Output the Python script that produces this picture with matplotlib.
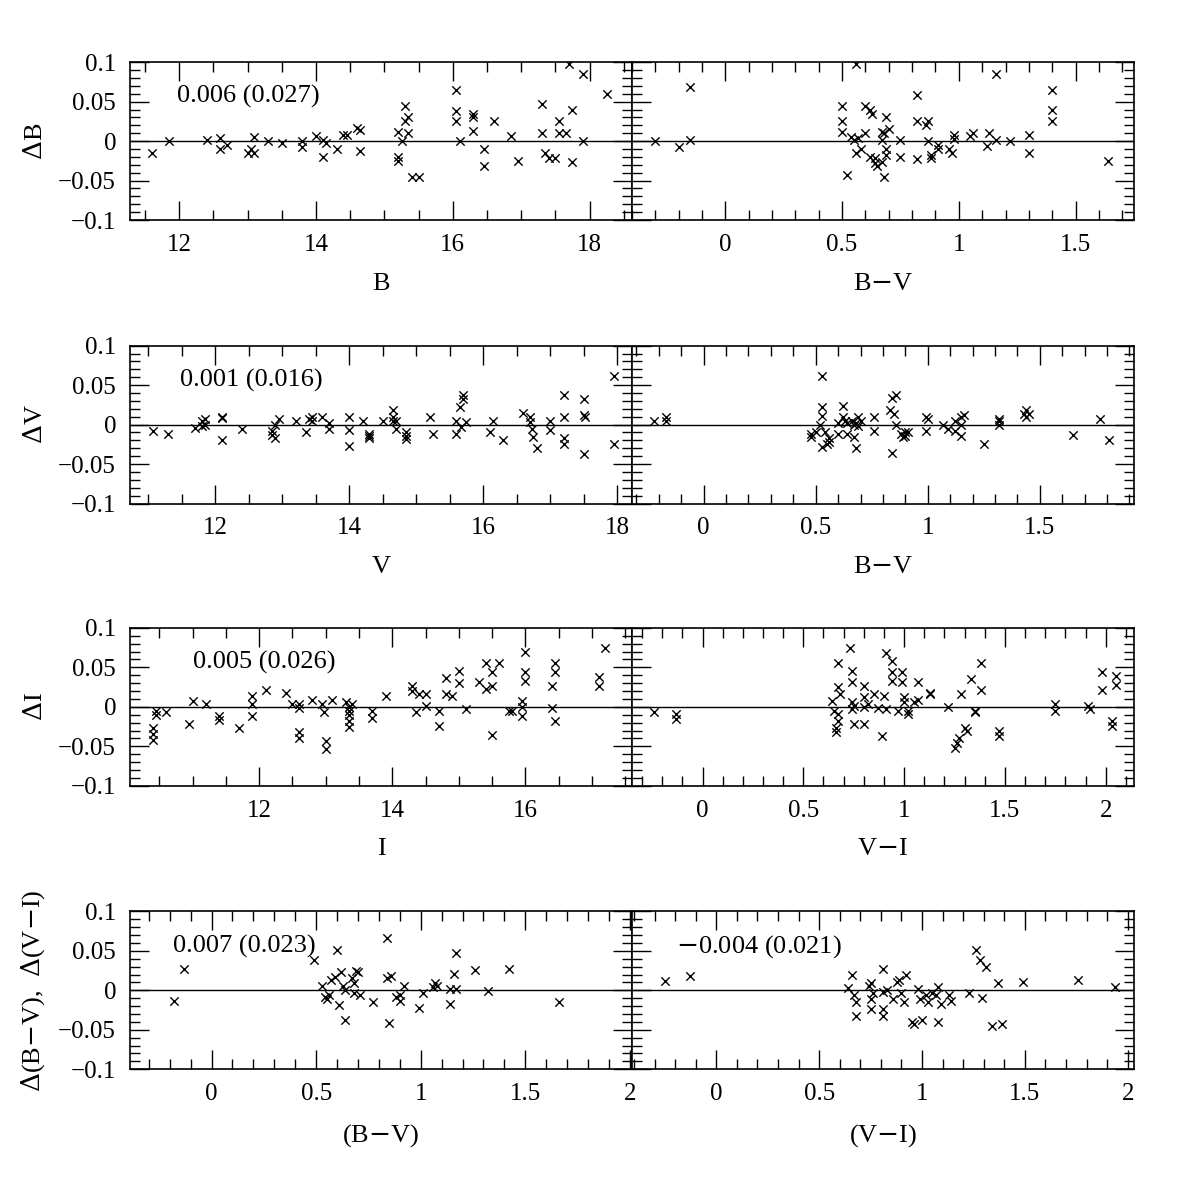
import matplotlib
matplotlib.use("Agg")
import matplotlib.pyplot as plt
from matplotlib.ticker import MultipleLocator, FuncFormatter

plt.rcParams["font.family"] = ["Liberation Serif", "DejaVu Serif"]
plt.rcParams["mathtext.fontset"] = "dejavuserif"

# panel 1: B vs dB
b_x = [11.6, 11.85, 12.4, 12.6, 12.6, 12.7, 13.0, 13.05, 13.1, 13.1, 13.3, 13.5, 13.8, 13.8,
       14.0, 14.1, 14.1, 14.15, 14.3, 14.4, 14.45, 14.6, 14.65, 14.65, 15.2, 15.2, 15.2, 15.25,
       15.3, 15.3, 15.35, 15.35, 15.4, 15.5, 16.05, 16.05, 16.05, 16.1, 16.3, 16.3, 16.3,
       16.45, 16.45, 16.6, 16.85, 16.95, 17.3, 17.3, 17.35, 17.4, 17.5, 17.55, 17.55, 17.65,
       17.7, 17.75, 17.75, 17.9, 17.9, 18.25]
b_d = [-0.015, 0, 0.002, 0.004, -0.01, -0.005, -0.015, -0.01, 0.005, -0.015, 0, -0.002, 0, -0.008,
       0.006, 0.002, -0.02, -0.003, -0.01, 0.008, 0.008, 0.017, 0.014, -0.012, 0.012, -0.02, -0.025, 0,
       0.045, 0.025, 0.03, 0.01, -0.045, -0.045, 0.065, 0.038, 0.025, 0, 0.035, 0.03, 0.013,
       -0.01, -0.032, 0.025, 0.006, -0.025, 0.01, 0.047, -0.015, -0.022, -0.022, 0.025, 0.01, 0.01,
       0.098, 0.04, -0.027, 0.085, 0, 0.06]

# panel 2: B-V vs dB
bv1_x = [-0.3, -0.2, -0.15, -0.15, 0.5, 0.5, 0.5, 0.52, 0.54, 0.55, 0.56, 0.57, 0.6, 0.56,
         0.58, 0.6, 0.62, 0.62, 0.63, 0.64, 0.64, 0.65, 0.67, 0.67, 0.67, 0.68, 0.69, 0.69, 0.68,
         0.69, 0.7, 0.75, 0.75, 0.82, 0.82, 0.82, 0.86, 0.87, 0.87, 0.88, 0.88, 0.91, 0.91, 0.96,
         0.97, 0.98, 0.98, 1.05, 1.06, 1.12, 1.13, 1.16, 1.16, 1.22, 1.3, 1.3, 1.4, 1.4, 1.4, 1.64]
bv1_d = [0, -0.008, 0.068, 0.002, 0.045, 0.025, 0.012, -0.043, 0.005, 0.002, 0.098, 0.004, 0.01, -0.015,
         -0.01, 0.045, 0.04, -0.02, 0.035, -0.022, -0.028, -0.032, -0.027, 0.012, 0.002, 0.01, 0.03, -0.018,
         -0.045, -0.01, 0.015, 0.002, -0.02, 0.058, 0.025, -0.023, 0.02, 0.025, 0, -0.022, -0.018, -0.005,
         -0.01, -0.01, -0.015, 0.003, 0.008, 0.006, 0.01, -0.006, 0.01, 0.085, 0.002, 0, 0.008, -0.015,
         0.065, 0.04, 0.025, -0.025]

# panel 3: V vs dV
v_x = [11.07, 11.3, 11.7, 11.8, 11.85, 11.85, 11.8, 12.1, 12.1, 12.1, 12.4, 12.85, 12.85, 12.9, 12.9,
       12.95, 13.2, 13.4, 13.35, 13.45, 13.45, 13.6, 13.7, 13.7, 14.0, 14.0, 14.0, 14.2, 14.3, 14.3,
       14.3, 14.5, 14.65, 14.65, 14.65, 14.7, 14.7, 14.85, 14.85, 14.85, 15.2, 15.25, 15.6, 15.6,
       15.65, 15.7, 15.7, 15.67, 15.75, 16.1, 16.15, 16.3, 16.6, 16.7, 16.7, 16.73, 16.75, 16.8,
       17.0, 17.0, 17.2, 17.2, 17.2, 17.2, 17.5, 17.5, 17.52, 17.5, 17.95, 17.95]
v_d = [-0.008, -0.012, -0.004, 0.005, 0, 0.007, -0.002, -0.02, 0.01, 0.008, -0.005, -0.008, -0.013,
       -0.017, 0, 0.007, 0.005, 0.007, -0.009, 0.005, 0.01, 0.009, -0.005, 0.002, 0.01, -0.027, -0.007,
       0.005, -0.012, -0.017, -0.015, 0.004, 0.018, 0.01, 0.005, -0.006, 0.005, -0.01, -0.015, -0.018,
       0.01, -0.012, 0.004, -0.012, 0.022, 0.033, 0.038, -0.003, 0.003, -0.009, 0.004, -0.02, 0.015,
       0.01, 0.003, -0.005, -0.016, -0.03, 0.005, -0.007, 0.037, 0.01, -0.017, -0.024, 0.032, 0.012,
       0.01, -0.037, 0.062, -0.025]

# panel 4: B-V vs dV
bv2_x = [-0.22, -0.17, -0.17, 0.48, 0.48, 0.5, 0.52, 0.53, 0.53, 0.53, 0.53, 0.54, 0.55, 0.56, 0.56,
         0.6, 0.6, 0.62, 0.62, 0.63, 0.64, 0.64, 0.66, 0.67, 0.67, 0.68, 0.68, 0.69, 0.69, 0.7,
         0.76, 0.76, 0.83, 0.84, 0.84, 0.86, 0.85, 0.86, 0.88, 0.89, 0.9, 0.9, 0.91, 0.99, 1.0, 0.99,
         1.07, 1.09, 1.12, 1.12, 1.15, 1.15, 1.15, 1.16, 1.25, 1.32, 1.32, 1.32, 1.43, 1.44, 1.45,
         1.44, 1.65, 1.77, 1.81]
bv2_d = [0.005, 0.009, 0.005, -0.012, -0.016, -0.01, 0, -0.028, 0.022, 0.011, 0.062, -0.01, -0.024,
         -0.017, -0.022, -0.012, 0.002, 0.01, 0.023, 0.005, -0.012, 0.002, 0.004, -0.016, -0.001, 0.002,
         -0.03, 0.009, -0.002, 0.005, 0.01, -0.008, 0.019, 0.034, -0.036, 0.038, 0.013, 0, -0.012,
         -0.016, -0.01, -0.015, -0.009, 0.01, 0.007, -0.008, 0, -0.005, 0.004, -0.008, 0, -0.015, 0.01,
         0.012, -0.025, 0.007, -0.001, 0.004, 0.014, 0.018, 0.014, 0.01, -0.013, 0.007, -0.02]

# panel 5: I vs dI
i_x = [10.4, 10.4, 10.4, 10.45, 10.45, 10.6, 10.95, 11.0, 11.2, 11.4, 11.4, 11.7, 11.9, 11.9, 11.9,
       12.1, 12.4, 12.5, 12.6, 12.6, 12.6, 12.6, 12.8, 12.95, 12.97, 13.0, 13.0, 13.1, 13.3, 13.35,
       13.35, 13.35, 13.35, 13.35, 13.4, 13.7, 13.7, 13.9, 14.3, 14.3, 14.35, 14.4, 14.5, 14.5,
       14.7, 14.7, 14.8, 14.8, 14.9, 15.0, 15.0, 15.1, 15.3, 15.4, 15.4, 15.5, 15.5, 15.5, 15.6,
       15.75, 15.8, 15.95, 15.95, 15.95, 16.0, 16.0, 16.0, 16.4, 16.45, 16.45, 16.4, 16.45,
       17.1, 17.1, 17.2]
i_d = [-0.027, -0.035, -0.042, -0.005, -0.01, -0.007, -0.022, 0.007, 0.003, -0.012, -0.017, -0.027,
       0.014, 0.003, -0.011, 0.021, 0.017, 0.003, -0.032, -0.04, 0.004, -0.002, 0.009, 0.004, -0.006,
       -0.043, -0.053, 0.009, 0.006, 0, -0.005, -0.01, -0.018, -0.026, 0.003, -0.005, -0.014, 0.014,
       0.026, 0.02, -0.006, 0.016, 0.016, 0.001, -0.024, -0.005, 0.037, 0.016, 0.014, 0.045, 0.03,
       -0.003, 0.031, 0.055, 0.023, 0.044, 0.027, -0.036, 0.056, -0.005, -0.005, 0.008, 0, -0.011,
       0.069, 0.044, 0.033, 0.027, 0.056, 0.044, -0.001, -0.018, 0.038, 0.027, 0.074]

# panel 6: V-I vs dI
vi1_x = [-0.24, -0.13, -0.13, 0.64, 0.65, 0.66, 0.66, 0.67, 0.67, 0.67, 0.67, 0.68, 0.73, 0.74, 0.74,
         0.74, 0.74, 0.75, 0.75, 0.8, 0.8, 0.8, 0.8, 0.82, 0.85, 0.87, 0.89, 0.9, 0.91, 0.91, 0.94,
         0.94, 0.94, 0.97, 0.99, 0.99, 1.0, 1.0, 1.02, 1.02, 1.05, 1.07, 1.07, 1.13, 1.13, 1.22, 1.25,
         1.26, 1.27, 1.28, 1.3, 1.31, 1.33, 1.35, 1.35, 1.38, 1.38, 1.47, 1.47, 1.75, 1.75, 1.91,
         1.92, 1.98, 1.98, 2.03, 2.03, 2.05, 2.05]
vi1_d = [-0.006, -0.009, -0.015, 0.008, -0.005, -0.027, -0.032, 0.055, 0.025, -0.009, -0.018, 0.016,
         0.074, 0.045, 0.031, 0.006, -0.003, 0.001, -0.022, 0.027, 0.012, 0, -0.022, 0.003, 0.016,
         -0.001, -0.037, 0.014, -0.003, 0.068, 0.058, 0.044, 0.033, -0.005, 0.044, 0.031, 0.012, 0.006,
         -0.009, -0.005, 0.006, 0.031, 0.009, 0.018, 0.016, 0, -0.052, -0.046, -0.039, 0.016, -0.027,
         -0.031, 0.035, -0.007, -0.005, 0.056, 0.021, -0.031, -0.037, 0.003, -0.005, 0.001, -0.003,
         0.021, 0.044, -0.018, -0.024, 0.039, 0.028]

# panel 7: (B-V) vs d(B-V)
bv3_x = [-0.18, -0.13, 0.49, 0.53, 0.54, 0.55, 0.56, 0.57, 0.59, 0.6, 0.61, 0.62, 0.63, 0.64, 0.64,
         0.67, 0.68, 0.68, 0.69, 0.7, 0.71, 0.77, 0.84, 0.84, 0.85, 0.86, 0.88, 0.9, 0.9, 0.92,
         0.99, 1.01, 1.06, 1.07, 1.08, 1.14, 1.14, 1.16, 1.17, 1.17, 1.26, 1.32, 1.42, 1.66]
bv3_d = [-0.014, 0.027, 0.038, 0.006, -0.009, -0.011, -0.006, 0.013, 0.017, 0.051, -0.019, 0.023,
         0.006, 0, -0.038, 0.015, 0.009, -0.004, 0.025, 0.023, -0.006, -0.015, 0.066, 0.015, -0.042,
         0.018, -0.008, -0.013, -0.006, 0.005, -0.022, -0.003, 0.004, 0.009, 0.006, -0.017, 0.002,
         0.021, 0.047, 0.001, 0.026, -0.001, 0.027, -0.015]

# panel 8: (V-I) vs d(V-I)
vi2_x = [-0.25, -0.13, 0.64, 0.66, 0.67, 0.68, 0.68, 0.74, 0.75, 0.75, 0.75, 0.76, 0.81, 0.81, 0.81,
         0.81, 0.83, 0.86, 0.88, 0.89, 0.9, 0.91, 0.92, 0.95, 0.96, 0.98, 0.99, 1.0, 1.02, 1.03,
         1.05, 1.07, 1.08, 1.08, 1.09, 1.13, 1.14, 1.23, 1.26, 1.28, 1.29, 1.31, 1.34, 1.37, 1.39,
         1.49, 1.76, 1.94]
vi2_d = [0.012, 0.018, 0.003, 0.02, -0.006, -0.015, -0.032, 0.006, 0.009, -0.011, -0.024, -0.004,
         0.027, -0.002, -0.024, -0.032, 0, -0.011, 0.01, 0.013, -0.004, -0.015, 0.019, -0.04, -0.043,
         0.002, -0.011, -0.038, -0.006, -0.015, -0.004, -0.006, 0.004, -0.04, -0.017, -0.006, -0.014,
         -0.004, 0.051, 0.038, -0.01, 0.03, -0.045, 0.009, -0.043, 0.011, 0.013, 0.004]

panels = [
    (b_x, b_d, (11.28, 18.62), 2, 0.5, "B", r"$\Delta$B", "0.006 (0.027)", 0.094),
    (bv1_x, bv1_d, (-0.40, 1.75), 0.5, 0.1, "B$-$V", None, None, 0),
    (v_x, v_d, (10.73, 18.22), 2, 0.5, "V", r"$\Delta$V", "0.001 (0.016)", 0.10),
    (bv2_x, bv2_d, (-0.32, 1.92), 0.5, 0.1, "B$-$V", None, None, 0),
    (i_x, i_d, (10.06, 17.6), 2, 0.5, "I", r"$\Delta$I", "0.005 (0.026)", 0.125),
    (vi1_x, vi1_d, (-0.35, 2.14), 0.5, 0.1, "V$-$I", None, None, 0),
    (bv3_x, bv3_d, (-0.39, 2.01), 0.5, 0.1, "(B$-$V)", r"$\Delta$(B$-$V),  $\Delta$(V$-$I)",
     "0.007 (0.023)", 0.086),
    (vi2_x, vi2_d, (-0.41, 2.03), 0.5, 0.1, "(V$-$I)", None, "$-$0.004 (0.021)", 0.088),
]

bottoms = [0.816, 0.579, 0.343, 0.106]
lefts = [0.1087, 0.5284]
W, H = 0.4197, 0.132

fig = plt.figure(figsize=(11.96, 11.96), dpi=100)


def fmt(v, _):
    if abs(v) < 1e-9:
        return "0"
    s = f"{v:g}"
    return s.replace("-", "\u2212")


for k, (xs, ys, xlim, maj, mnr, xlabel, ylabel, note, nx) in enumerate(panels):
    row, col = divmod(k, 2)
    ax = fig.add_axes([lefts[col], bottoms[row], W, H])
    ax.scatter(xs, ys, marker="x", s=36, c="black", linewidths=1.0)
    ax.axhline(0, color="black", lw=1.0)
    ax.set_xlim(*xlim)
    ax.set_ylim(-0.1, 0.1)
    ax.xaxis.set_major_locator(MultipleLocator(maj))
    ax.xaxis.set_minor_locator(MultipleLocator(mnr))
    ax.yaxis.set_major_locator(MultipleLocator(0.05))
    ax.yaxis.set_minor_locator(MultipleLocator(0.01))
    ax.xaxis.set_major_formatter(FuncFormatter(fmt))
    ax.yaxis.set_major_formatter(FuncFormatter(fmt))
    ax.tick_params(which="both", direction="in", top=True, right=True, labelsize=18,
                   width=1.0)
    ax.tick_params(which="major", length=14, pad=10)
    ax.tick_params(which="minor", length=7)
    if col == 1:
        ax.tick_params(labelleft=False)
    for sp in ax.spines.values():
        sp.set_linewidth(1.2)
    ax.set_xlabel(xlabel, fontsize=19, labelpad=12)
    if ylabel:
        ax.set_ylabel(ylabel, fontsize=19, labelpad=8)
    if note:
        ax.text(nx, 0.78, note, transform=ax.transAxes, fontsize=19, va="center")

fig.savefig("out.png", dpi=100)
